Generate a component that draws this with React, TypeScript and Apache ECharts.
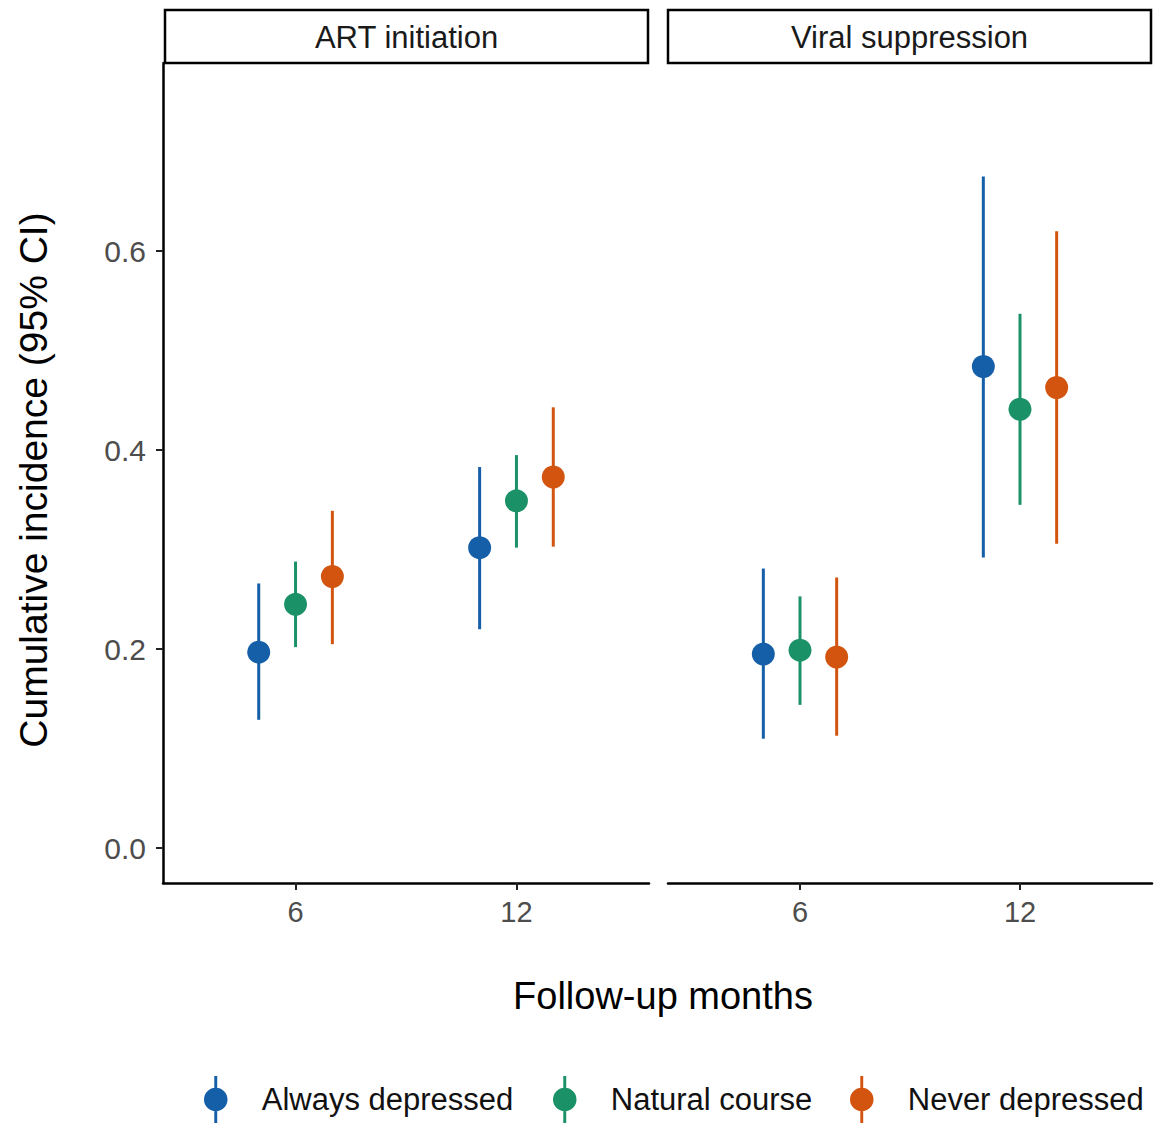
import React, { useEffect, useRef } from "react";
import * as echarts from "echarts";

const panels = ["ART initiation", "Viral suppression"];
const months = ["6", "12"];
const groups = ["Always depressed", "Natural course", "Never depressed"];
const colors = ["#155ea8", "#1b9167", "#d2540e"];
const yTicks = [0, 0.2, 0.4, 0.6];

// rows = groups (Always, Natural, Never), columns = months (6, 12)
const artEstimate = [
  [0.197, 0.302],
  [0.245, 0.349],
  [0.273, 0.373],
];
const artLower = [
  [0.129, 0.22],
  [0.202, 0.302],
  [0.205, 0.303],
];
const artUpper = [
  [0.266, 0.383],
  [0.288, 0.395],
  [0.339, 0.443],
];
const vsEstimate = [
  [0.195, 0.484],
  [0.199, 0.441],
  [0.192, 0.463],
];
const vsLower = [
  [0.11, 0.292],
  [0.144, 0.345],
  [0.113, 0.306],
];
const vsUpper = [
  [0.281, 0.675],
  [0.253, 0.537],
  [0.272, 0.62],
];

const panelData = [
  { est: artEstimate, lo: artLower, hi: artUpper },
  { est: vsEstimate, lo: vsLower, hi: vsUpper },
];

const FONT = "Liberation Sans, Arial, Helvetica, sans-serif";
const dodge = [-1 / 6, 0, 1 / 6];
const legendIcon =
  "path://M10.5,0L13.5,0L13.5,48L10.5,48Z M0,24A12,12,0,1,1,24,24A12,12,0,1,1,0,24Z";

export default function App() {
  const ref = useRef<HTMLDivElement>(null);
  useEffect(() => {
    if (!ref.current) return;
    const chart = echarts.init(ref.current, undefined, { renderer: "svg" });
    const grids = [
      { left: 163, top: 63, width: 486, height: 820 },
      { left: 668, top: 63, width: 484, height: 820 },
    ];
    const xAxes = grids.map((_, p) => ({
      type: "value",
      gridIndex: p,
      min: 0.4,
      max: 2.6,
      axisLine: { show: true, onZero: false, lineStyle: { color: "#000", width: 2.5 } },
      axisTick: { show: true, customValues: [1, 2], length: 7, lineStyle: { color: "#222", width: 2 } },
      axisLabel: {
        show: true,
        customValues: [1, 2],
        formatter: (v: number) => months[Math.round(v) - 1] ?? "",
        fontSize: 29,
        color: "#4d4d4d",
        margin: 14,
        fontFamily: FONT,
      },
      splitLine: { show: false },
    }));
    const yAxes = grids.map((_, p) => ({
      type: "value",
      gridIndex: p,
      min: -0.035,
      max: 0.789,
      axisLine: { show: p === 0, onZero: false, lineStyle: { color: "#000", width: 2.5 } },
      axisTick: { show: p === 0, customValues: yTicks, length: 7, lineStyle: { color: "#222", width: 2 } },
      axisLabel: {
        show: p === 0,
        customValues: yTicks,
        formatter: (v: number) => v.toFixed(1),
        fontSize: 30,
        color: "#4d4d4d",
        margin: 17,
        fontFamily: FONT,
      },
      splitLine: { show: false },
    }));
    const series: any[] = [];
    panelData.forEach((pd, p) => {
      groups.forEach((g, gi) => {
        const errData = months.map((_, mi) => [mi + 1 + dodge[gi], pd.lo[gi][mi], pd.hi[gi][mi]]);
        series.push({
          type: "custom",
          xAxisIndex: p,
          yAxisIndex: p,
          z: 2,
          encode: { x: 0, y: [1, 2] },
          data: errData,
          renderItem: (_params: any, api: any) => {
            const x = api.value(0);
            const a = api.coord([x, api.value(1)]);
            const b = api.coord([x, api.value(2)]);
            return {
              type: "line",
              shape: { x1: a[0], y1: a[1], x2: b[0], y2: b[1] },
              style: { stroke: colors[gi], lineWidth: 3 },
            };
          },
        });
        series.push({
          type: "scatter",
          name: g,
          xAxisIndex: p,
          yAxisIndex: p,
          z: 3,
          symbol: "circle",
          symbolSize: 23,
          itemStyle: { color: colors[gi], opacity: 1 },
          data: months.map((_, mi) => [mi + 1 + dodge[gi], pd.est[gi][mi]]),
        });
      });
    });
    const legendLefts = [199, 548, 845];
    const legends = groups.map((g, gi) => ({
      left: legendLefts[gi],
      top: 1071,
      orient: "horizontal",
      itemWidth: 24,
      itemHeight: 47,
      selectedMode: false,
      textStyle: { fontSize: 31, color: "#111", fontFamily: FONT, padding: [0, 0, 0, 29] },
      data: [{ name: g, icon: legendIcon, itemStyle: { color: colors[gi] } }],
    }));
    const graphic: any[] = [];
    const strips = [
      { x: 165, w: 483 },
      { x: 668, w: 483 },
    ];
    strips.forEach((s, i) => {
      graphic.push({
        type: "rect",
        shape: { x: s.x, y: 10, width: s.w, height: 53 },
        style: { fill: "#fff", stroke: "#000", lineWidth: 2.5 },
        z: 10,
      });
      graphic.push({
        type: "text",
        x: s.x + s.w / 2,
        y: 37,
        style: {
          text: panels[i],
          fontSize: 31,
          fill: "#1a1a1a",
          fontFamily: FONT,
          textAlign: "center",
          textVerticalAlign: "middle",
        },
        z: 11,
      });
    });
    graphic.push({
      type: "text",
      x: 663,
      y: 996,
      style: {
        text: "Follow-up months",
        fontSize: 38,
        fill: "#000",
        fontFamily: FONT,
        textAlign: "center",
        textVerticalAlign: "middle",
      },
    });
    graphic.push({
      type: "text",
      x: 33,
      y: 480,
      rotation: Math.PI / 2,
      style: {
        text: "Cumulative incidence (95% CI)",
        fontSize: 39,
        fill: "#000",
        fontFamily: FONT,
        textAlign: "center",
        textVerticalAlign: "middle",
      },
    });
    chart.setOption({
      animation: false,
      backgroundColor: "#fff",
      textStyle: { fontFamily: FONT },
      grid: grids,
      xAxis: xAxes,
      yAxis: yAxes,
      legend: legends,
      series,
      graphic,
    });
    return () => chart.dispose();
  }, []);
  return (
    <div
      ref={ref}
      style={{ position: "fixed", left: 0, top: 0, width: 1162, height: 1123 }}
    />
  );
}
